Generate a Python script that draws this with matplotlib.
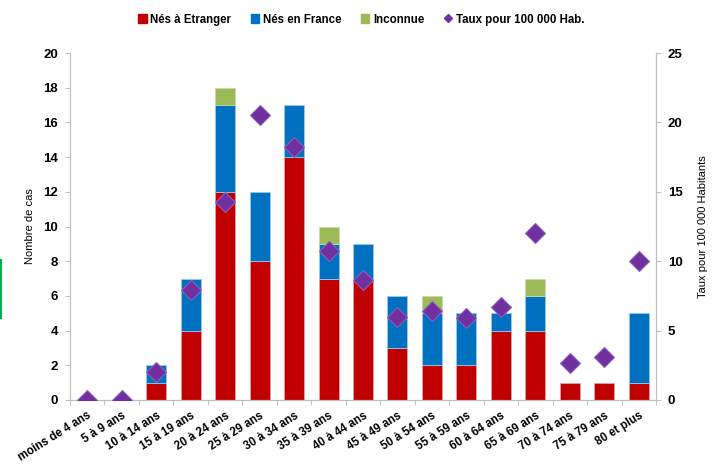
import matplotlib.pyplot as plt
import matplotlib.transforms as mtrans
from matplotlib.lines import Line2D
from matplotlib.patches import Patch
import numpy as np

plt.rcParams['font.family'] = ['Liberation Sans', 'DejaVu Sans']

# données
categories = ['moins de 4 ans', '5 à 9 ans', '10 à 14 ans', '15 à 19 ans', '20 à 24 ans',
              '25 à 29 ans', '30 à 34 ans', '35 à 39 ans', '40 à 44 ans', '45 à 49 ans',
              '50 à 54 ans', '55 à 59 ans', '60 à 64 ans', '65 à 69 ans', '70 à 74 ans',
              '75 à 79 ans', '80 et plus']
nes_etranger = [0, 0, 1, 4, 12, 8, 14, 7, 7, 3, 2, 2, 4, 4, 1, 1, 1]
nes_france = [0, 0, 1, 3, 5, 4, 3, 2, 2, 3, 3, 3, 1, 2, 0, 0, 4]
inconnue = [0, 0, 0, 0, 1, 0, 0, 1, 0, 0, 1, 0, 0, 1, 0, 0, 0]
taux = [0, 0, 2.0, 7.9, 14.3, 20.5, 18.2, 10.7, 8.65, 6.0, 6.4, 5.9, 6.7, 12.0, 2.7, 3.1, 10.0]

c_red = '#C00000'
c_blue = '#0070C0'
c_green = '#9BBB59'
c_purple = '#7030A0'
c_axis = '#BFBFBF'

fig = plt.figure(figsize=(7.17, 4.65), dpi=100)
ax1 = fig.add_axes([0.0976, 0.1398, 0.8174, 0.7462])
ax2 = ax1.twinx()

x = np.arange(len(categories))
w = 0.58
red = np.array(nes_etranger, dtype=float)
blue = np.array(nes_france, dtype=float)
green = np.array(inconnue, dtype=float)


def empile(vals, bas, couleur, bord):
    # seulement les segments non nuls (pas de trait pour les zéros)
    m = vals > 0
    ax1.bar(x[m], vals[m], w, bottom=bas[m], color=couleur, edgecolor=bord, linewidth=0.6)


empile(red, np.zeros_like(red), c_red, '#E8A0A0')
empile(blue, red, c_blue, '#9CC8E8')
empile(green, red + blue, c_green, '#C8DAA8')

ax2.plot(x, taux, linestyle='none', marker='D', markersize=10, color=c_purple,
         markeredgecolor='#8E5DB8', markeredgewidth=0.8, zorder=5)

ax1.set_xlim(-0.5, len(categories) - 0.5)
ax1.set_ylim(0, 20)
ax1.set_yticks(range(0, 21, 2))
ax2.set_ylim(0, 25)
ax2.set_yticks(range(0, 26, 5))

ax1.set_xticks(x)
ax1.set_xticklabels(categories, rotation=32, ha='right', rotation_mode='anchor',
                    fontsize=8.3, fontweight='bold')
# petit décalage vers la droite des libellés
decal = mtrans.ScaledTranslation(0.04, 0, fig.dpi_scale_trans)
for lab in ax1.get_xticklabels():
    lab.set_transform(lab.get_transform() + decal)
ax1.set_xticks(np.arange(-0.5, len(categories), 1), minor=True)
ax1.tick_params(axis='x', which='major', length=0, pad=7)
ax1.tick_params(axis='x', which='minor', length=3.6, color=c_axis, direction='out')

for ax in (ax1, ax2):
    for s in ax.spines.values():
        s.set_color(c_axis)
    ax.spines['top'].set_visible(False)
    ax.tick_params(axis='y', length=3.6, color=c_axis, labelsize=9.5, pad=5)
    for lab in ax.get_yticklabels():
        lab.set_fontweight('bold')

ax1.set_ylabel('Nombre de cas', fontsize=8, labelpad=6)
ax2.set_ylabel('Taux pour 100 000 Habitants', fontsize=8, labelpad=11)

handles = [Patch(color=c_red), Patch(color=c_blue), Patch(color=c_green),
           Line2D([], [], linestyle='none', marker='D', markersize=4.5, color=c_purple)]
labels = ['Nés à Etranger', 'Nés en France', 'Inconnue', 'Taux pour 100 000 Hab.']
fig.legend(handles, labels, loc='center', bbox_to_anchor=(0.504, 0.958), ncol=4,
           frameon=False, handlelength=0.7, handleheight=0.7, handletextpad=0.3,
           columnspacing=1.75, prop={'size': 8.3, 'weight': 'bold'})

# trait vert sur le bord gauche
fig.add_artist(Line2D([0.002, 0.002], [1 - 260 / 465, 1 - 318 / 465],
                      transform=fig.transFigure, color='#00B050', linewidth=1.5))

fig.savefig('out.png', dpi=100)
